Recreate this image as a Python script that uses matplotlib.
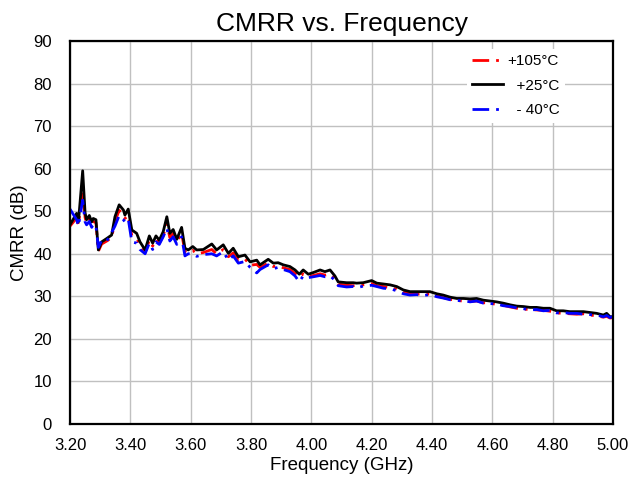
import matplotlib
matplotlib.use("Agg")
import matplotlib.pyplot as plt

plt.rcParams['font.family'] = ['Liberation Sans', 'DejaVu Sans']

freq_ghz = [3.200, 3.222, 3.228, 3.242, 3.250, 3.255, 3.264, 3.272, 3.277, 3.286,
            3.294, 3.305, 3.322, 3.338, 3.349, 3.363, 3.377, 3.382, 3.393, 3.405,
            3.421, 3.432, 3.449, 3.463, 3.474, 3.485, 3.496, 3.509, 3.521, 3.531,
            3.542, 3.554, 3.570, 3.581, 3.592, 3.607, 3.620, 3.642, 3.670, 3.686,
            3.708, 3.725, 3.741, 3.758, 3.780, 3.797, 3.819, 3.830, 3.857, 3.874,
            3.890, 3.907, 3.929, 3.946, 3.960, 3.973, 3.990, 4.007, 4.029, 4.045,
            4.062, 4.078, 4.089, 4.117, 4.139, 4.150, 4.172, 4.200, 4.217, 4.239,
            4.261, 4.283, 4.305, 4.327, 4.349, 4.371, 4.393, 4.416, 4.437, 4.460,
            4.482, 4.504, 4.526, 4.548, 4.570, 4.592, 4.614, 4.636, 4.659, 4.681,
            4.703, 4.725, 4.747, 4.769, 4.791, 4.813, 4.835, 4.857, 4.880, 4.902,
            4.924, 4.946, 4.968, 4.979, 4.990, 5.000]

cmrr_25c = [46.8, 49.5, 47.5, 59.5, 49.6, 48.0, 49.0, 47.5, 48.3, 48.0,
            40.9, 42.8, 43.6, 44.4, 48.7, 51.5, 50.3, 49.1, 50.5, 45.6,
            44.8, 42.8, 40.9, 44.2, 42.5, 44.2, 43.2, 45.2, 48.7, 44.8,
            45.7, 43.4, 46.2, 41.3, 40.9, 41.7, 40.9, 41.0, 42.3, 40.9,
            42.1, 40.1, 41.3, 39.3, 39.7, 38.1, 38.5, 37.4, 38.7, 37.8,
            37.9, 37.4, 37.0, 36.2, 35.2, 36.2, 35.2, 35.6, 36.2, 35.8,
            36.2, 34.8, 33.4, 33.2, 33.2, 33.1, 33.2, 33.7, 33.1, 32.9,
            32.7, 32.3, 31.5, 31.1, 31.1, 31.1, 31.1, 30.6, 30.3, 29.8,
            29.5, 29.5, 29.4, 29.5, 29.1, 28.9, 28.7, 28.4, 28.0, 27.7,
            27.6, 27.4, 27.4, 27.2, 27.2, 26.6, 26.6, 26.4, 26.4, 26.4,
            26.2, 26.0, 25.6, 26.0, 25.2, 25.2]

cmrr_105c = [46.5, 48.4, 46.8, 55.0, 48.5, 47.2, 48.2, 46.8, 47.6, 47.3,
             40.6, 42.3, 43.0, 43.8, 47.6, 50.2, 49.2, 48.3, 49.0, 44.2,
             43.6, 42.0, 40.3, 43.2, 41.8, 43.4, 42.5, 44.3, 47.0, 43.8,
             44.8, 42.8, 44.8, 40.5, 40.2, 40.8, 40.0, 40.3, 41.0, 40.0,
             41.0, 39.3, 40.2, 38.5, 38.8, 37.3, 37.5, 36.8, 37.8, 37.0,
             37.2, 36.7, 36.3, 35.4, 34.5, 35.3, 34.6, 34.9, 35.3, 35.0,
             35.2, 34.2, 32.9, 32.6, 32.5, 32.6, 32.7, 33.0, 32.5, 32.3,
             32.0, 31.7, 31.0, 30.6, 30.5, 30.6, 30.5, 30.1, 29.7, 29.3,
             29.0, 28.9, 28.8, 28.9, 28.5, 28.4, 28.1, 27.9, 27.5, 27.2,
             27.0, 26.9, 26.8, 26.7, 26.5, 26.1, 26.0, 25.9, 25.8, 25.9,
             25.6, 25.4, 25.1, 25.3, 24.9, 25.0]

cmrr_m40c = [50.5, 48.0, 46.5, 52.6, 47.5, 46.8, 47.6, 46.2, 47.0, 46.5,
             41.5, 43.2, 43.0, 45.0, 46.5, 49.0, 48.0, 47.5, 48.2, 42.8,
             42.5, 41.0, 40.0, 42.5, 41.0, 42.8, 42.2, 44.0, 46.0, 43.0,
             44.0, 42.2, 44.0, 39.5, 40.0, 40.0, 39.4, 39.8, 40.0, 39.5,
             40.5, 38.5, 39.5, 37.8, 38.2, 36.8, 35.5, 36.3, 37.4, 36.5,
             36.8, 36.3, 35.8, 34.8, 33.4, 34.8, 34.4, 34.6, 34.9, 34.6,
             34.8, 33.8, 32.5, 32.2, 32.3, 32.0, 32.4, 32.6, 32.3, 31.9,
             31.8, 31.3, 30.6, 30.3, 30.4, 30.2, 30.4, 29.9, 29.6, 29.2,
             29.0, 29.0, 28.7, 28.9, 28.4, 28.3, 28.2, 27.8, 27.6, 27.3,
             27.1, 26.8, 26.9, 26.6, 26.7, 26.1, 26.2, 26.0, 26.0, 25.8,
             25.7, 25.6, 25.2, 25.5, 25.0, 25.3]

x_ticks = [3.2, 3.4, 3.6, 3.8, 4.0, 4.2, 4.4, 4.6, 4.8, 5.0]
y_ticks = [0, 10, 20, 30, 40, 50, 60, 70, 80, 90]

fig = plt.figure(figsize=(6.31, 4.82), dpi=100)
ax = fig.add_axes([70 / 631, 58 / 482, 543 / 631, 383 / 482])

dashdot = (0, (6, 2.5, 1, 2.5))
ax.plot(freq_ghz, cmrr_105c, color='#ff0000', lw=2, ls=dashdot, label='+105°C')
ax.plot(freq_ghz, cmrr_25c, color='black', lw=2, label='  +25°C')
ax.plot(freq_ghz, cmrr_m40c, color='#0000ff', lw=2, ls=dashdot, label='  - 40°C')

ax.set_xlim(3.2, 5.0)
ax.set_ylim(0, 90)
ax.set_xticks(x_ticks)
ax.set_xticklabels([f'{t:.2f}' for t in x_ticks])
ax.set_yticks(y_ticks)
ax.tick_params(axis='both', length=0, labelsize=12)
ax.tick_params(axis='x', pad=10)
ax.tick_params(axis='y', pad=13)
ax.grid(True, color='#c0c0c0', lw=1)
ax.set_axisbelow(True)
for sp in ax.spines.values():
    sp.set_linewidth(1.6)
    sp.set_color('black')

ax.set_xlabel('Frequency (GHz)', fontsize=13.5, labelpad=3)
ax.set_ylabel('CMRR (dB)', fontsize=13.5, labelpad=4)
ax.set_title('CMRR vs. Frequency', fontsize=19, pad=7)

leg = ax.legend(loc='upper right', bbox_to_anchor=(0.925, 1.0), fontsize=11,
                frameon=True, facecolor='white', edgecolor='none', framealpha=1,
                handlelength=2.0, handletextpad=0.3, labelspacing=0.7,
                borderpad=0.35, fancybox=False)

fig.savefig('out.png', dpi=100)
